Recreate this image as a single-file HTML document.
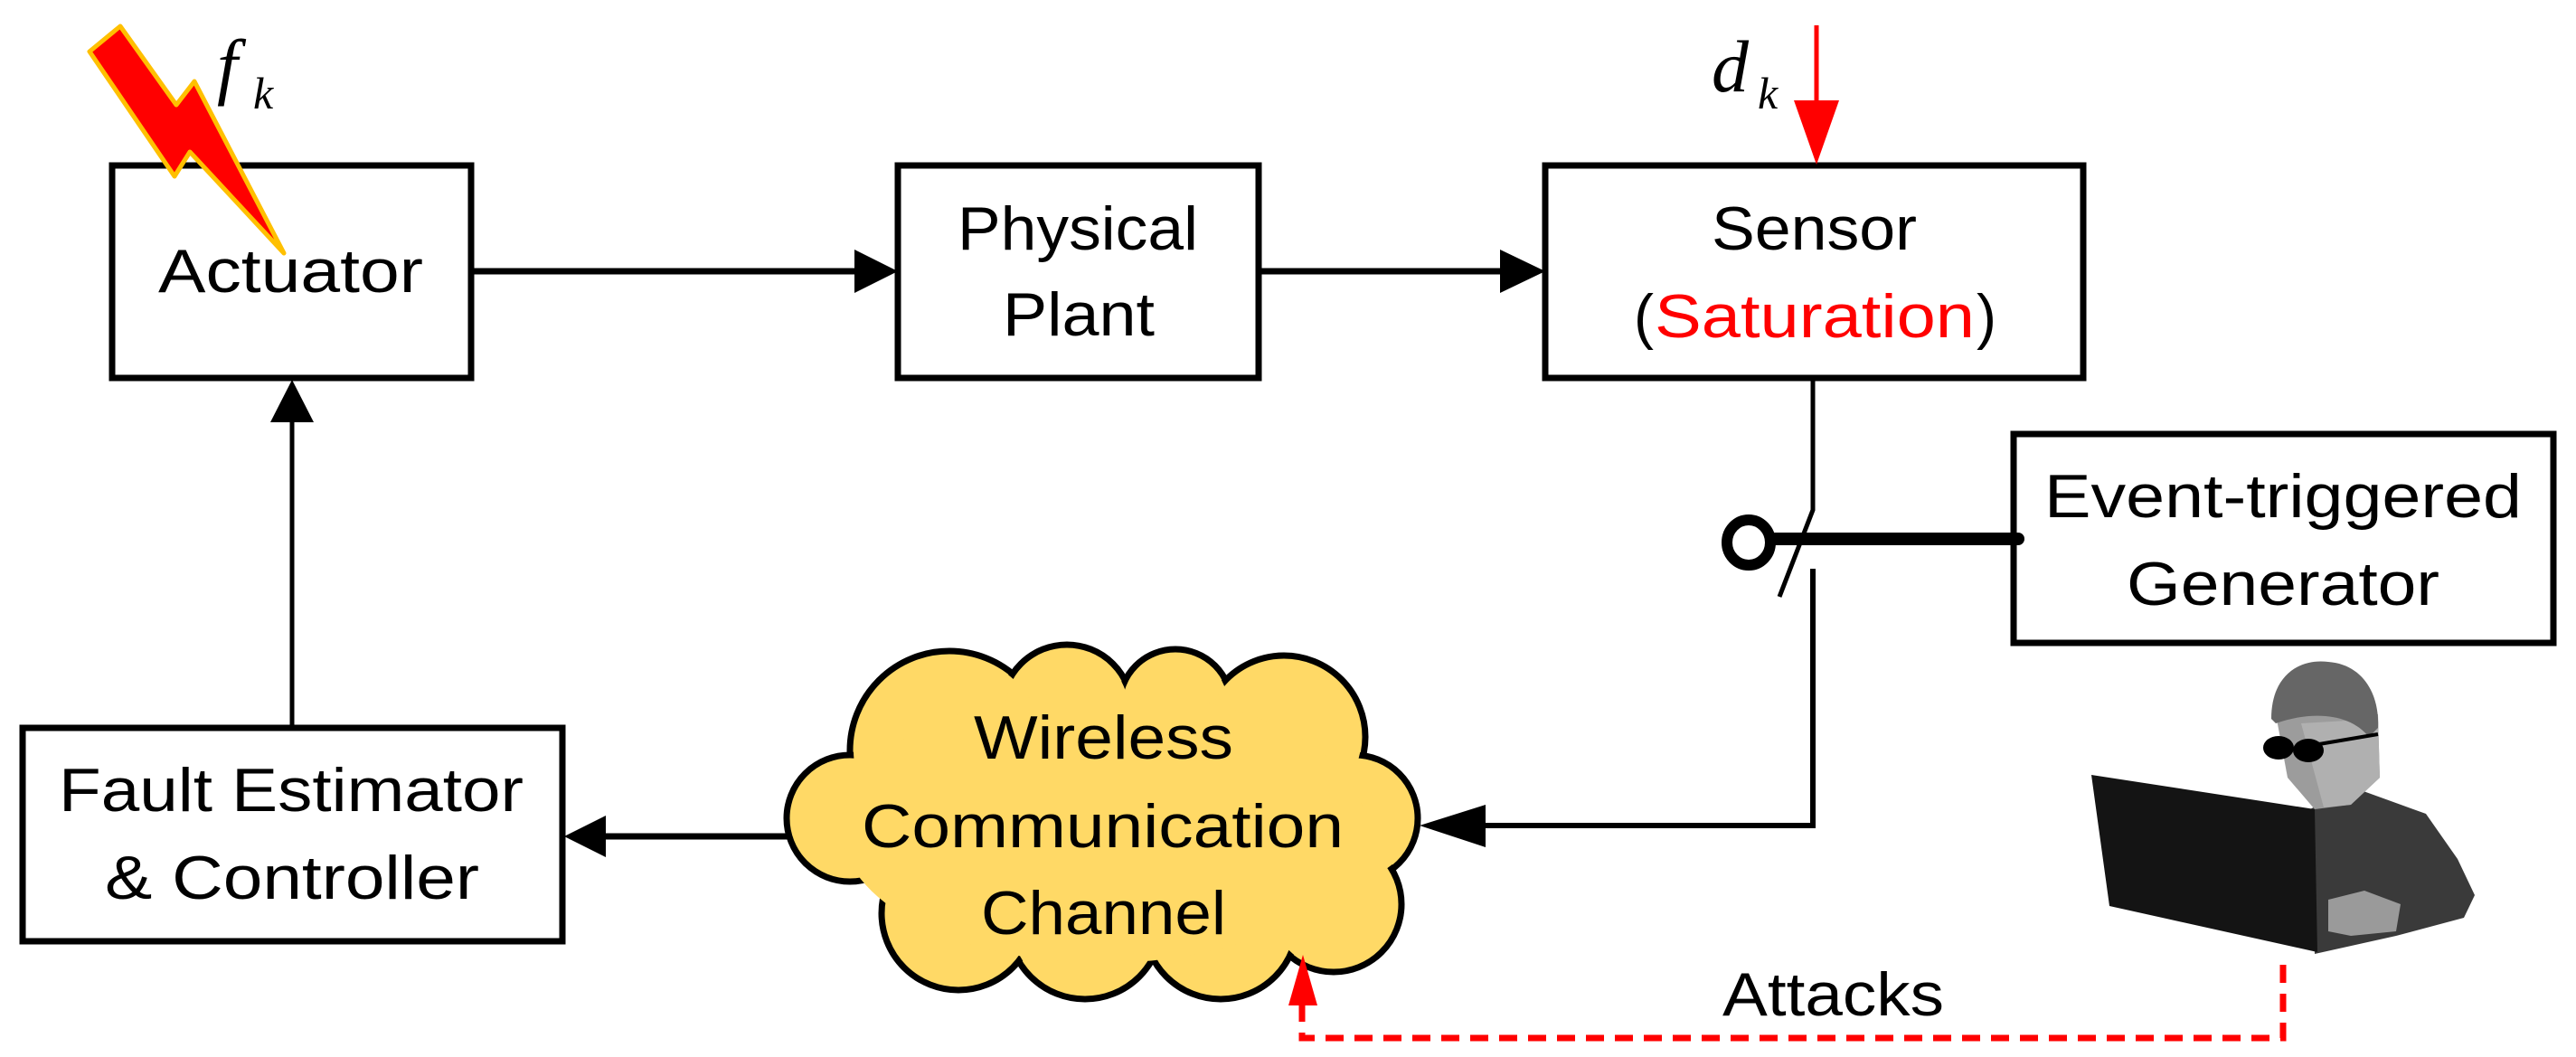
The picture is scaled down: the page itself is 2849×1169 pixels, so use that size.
<!DOCTYPE html>
<html><head><meta charset="utf-8"><style>
html,body{margin:0;padding:0;background:#fff;}
svg{display:block;}
text{font-family:"Liberation Sans",sans-serif;}
.m{font-family:"Liberation Serif",serif;font-style:italic;}
</style></head><body>
<svg width="2849" height="1169" viewBox="0 0 2849 1169" xmlns="http://www.w3.org/2000/svg">
<g fill="none" stroke="#000" stroke-width="7">
<rect x="124" y="183" width="397" height="235"/>
<rect x="993" y="183" width="399" height="235"/>
<rect x="1709" y="183" width="595" height="235"/>
<rect x="2227" y="480" width="597" height="231"/>
<rect x="25" y="805" width="597" height="236"/>
</g>
<g stroke="#000" stroke-width="7">
<line x1="521" y1="300" x2="950" y2="300"/>
<line x1="1392" y1="300" x2="1662" y2="300"/>
<line x1="873" y1="925" x2="665" y2="925"/>
</g>
<polygon points="945,276 993,300 945,324" fill="#000"/>
<polygon points="1659,276 1709,300 1659,324" fill="#000"/>
<polygon points="670,902 624,925 670,948" fill="#000"/>
<line x1="323" y1="805" x2="323" y2="460" stroke="#000" stroke-width="5"/>
<polygon points="299,467 323,420 347,467" fill="#000"/>
<polyline points="2005,418 2005,564 1968,660" fill="none" stroke="#000" stroke-width="5"/>
<polyline points="2005,629 2005,913 1640,913" fill="none" stroke="#000" stroke-width="6"/>
<polygon points="1643,890 1570,913 1643,937" fill="#000"/>
<line x1="1962" y1="596" x2="2232" y2="596" stroke="#000" stroke-width="14" stroke-linecap="round"/>
<ellipse cx="1934" cy="600" rx="24" ry="25" fill="#fff" stroke="#000" stroke-width="12"/>
<line x1="2009" y1="28" x2="2009" y2="115" stroke="#f00" stroke-width="5"/>
<polygon points="1984,111 2034,111 2009,182" fill="#f00"/>
<text class="m" x="1893" y="101" font-size="82">d</text>
<text class="m" x="1944" y="120" font-size="50">k</text>
<polygon points="99,57 133,29 195,116 215,90 314,280 210,168 193,195" fill="#f00" stroke="#FFC000" stroke-width="5" stroke-linejoin="round"/>
<text class="m" x="240" y="100" font-size="82">f</text>
<text class="m" x="280" y="120" font-size="50">k</text>
<g font-size="68" fill="#000">
<text x="175" y="323" textLength="293" lengthAdjust="spacingAndGlyphs">Actuator</text>
<text x="1059" y="276" textLength="266" lengthAdjust="spacingAndGlyphs">Physical</text>
<text x="1109" y="371" textLength="168" lengthAdjust="spacingAndGlyphs">Plant</text>
<text x="1893" y="276" textLength="227" lengthAdjust="spacingAndGlyphs">Sensor</text>
<text x="1807" y="373" textLength="22" lengthAdjust="spacingAndGlyphs">(</text>
<text x="1830" y="373" fill="#f00" textLength="354" lengthAdjust="spacingAndGlyphs">Saturation</text>
<text x="2186" y="373" textLength="22" lengthAdjust="spacingAndGlyphs">)</text>
<text x="2261" y="572" textLength="528" lengthAdjust="spacingAndGlyphs">Event-triggered</text>
<text x="2352" y="669" textLength="346" lengthAdjust="spacingAndGlyphs">Generator</text>
<text x="65" y="897" textLength="514" lengthAdjust="spacingAndGlyphs">Fault Estimator</text>
<text x="116" y="994" textLength="414" lengthAdjust="spacingAndGlyphs">&amp; Controller</text>
</g>
<g stroke="#000" stroke-width="7" fill="#FFD966">
<circle cx="1050" cy="830" r="110"/><circle cx="1180" cy="785" r="72"/><circle cx="1300" cy="780" r="62"/>
<circle cx="1420" cy="815" r="90"/><circle cx="1498" cy="905" r="70"/><circle cx="1475" cy="1000" r="75"/>
<circle cx="1350" cy="1020" r="85"/><circle cx="1200" cy="1020" r="85"/><circle cx="1060" cy="1010" r="85"/>
<circle cx="940" cy="905" r="70"/>
</g>
<g fill="#FFD966">
<circle cx="1050" cy="830" r="106"/><circle cx="1180" cy="785" r="68"/><circle cx="1300" cy="780" r="58"/>
<circle cx="1420" cy="815" r="86"/><circle cx="1498" cy="905" r="66"/><circle cx="1475" cy="1000" r="71"/>
<circle cx="1350" cy="1020" r="81"/><circle cx="1200" cy="1020" r="81"/><circle cx="1060" cy="1010" r="81"/>
<circle cx="940" cy="905" r="66"/><ellipse cx="1220" cy="915" rx="290" ry="150"/>
</g>
<g font-size="68" fill="#000">
<text x="1077" y="839" textLength="287" lengthAdjust="spacingAndGlyphs">Wireless</text>
<text x="953" y="937" textLength="533" lengthAdjust="spacingAndGlyphs">Communication</text>
<text x="1085" y="1033" textLength="271" lengthAdjust="spacingAndGlyphs">Channel</text>
<text x="1905" y="1123" textLength="245" lengthAdjust="spacingAndGlyphs">Attacks</text>
</g>
<polyline points="1440,1110 1440,1148 2525,1148 2525,1057" fill="none" stroke="#f00" stroke-width="7" stroke-dasharray="20,12"/>
<polygon points="1425,1112 1457,1112 1441,1056" fill="#f00"/>
<path d="M2555,895 L2600,870 L2683,900 L2718,950 L2737,990 L2725,1015 L2650,1035 L2560,1055 Z" fill="#3a3a3a"/>
<path d="M2575,995 L2615,985 L2655,1000 L2650,1030 L2600,1035 L2575,1030 Z" fill="#9a9a9a"/>
<path d="M2517,790 L2630,790 L2632,860 L2600,890 L2560,895 L2530,860 Z" fill="#9c9c9c"/>
<path d="M2545,800 L2630,795 L2632,860 L2600,890 L2570,893 Z" fill="#b0b0b0"/>
<path d="M2512,795 C2512,745 2545,728 2575,732 C2615,735 2632,770 2630,805 L2620,815 C2600,790 2560,785 2517,800 Z" fill="#666"/>
<ellipse cx="2520" cy="827" rx="17" ry="13" fill="#000"/>
<ellipse cx="2553" cy="830" rx="17" ry="13" fill="#000"/>
<line x1="2553" y1="825" x2="2630" y2="812" stroke="#000" stroke-width="4"/>
<polygon points="2313,857 2560,895 2563,1053 2333,1002" fill="#141414"/>
</svg>
</body></html>
